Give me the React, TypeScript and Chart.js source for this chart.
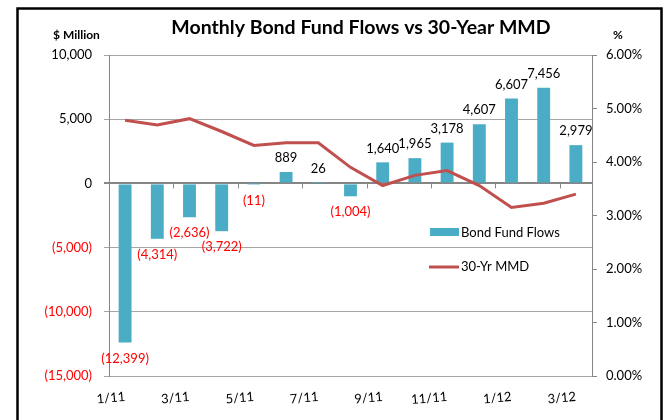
import React, { useEffect, useRef } from "react";
import { Chart, registerables } from "chart.js";

Chart.register(...registerables);

const months = ["1/11","2/11","3/11","4/11","5/11","6/11","7/11","8/11","9/11","10/11","11/11","12/11","1/12","2/12","3/12"];
const bondFlows = [-12399, -4314, -2636, -3722, -11, 889, 26, -1004, 1640, 1965, 3178, 4607, 6607, 7456, 2979];
const mmd = [4.78, 4.69, 4.81, 4.57, 4.31, 4.36, 4.36, 3.90, 3.56, 3.75, 3.84, 3.56, 3.15, 3.23, 3.40];
const leftTicks = { min: -15000, max: 10000, step: 5000 };
const rightTicks = { min: 0, max: 6, step: 1 };

const FONT = "Lato, 'Open Sans', sans-serif";
const BAR = "#4BACC6";
const LINE = "#C0504D";
const RED = "#FF0000";

function fmtMoney(v: number): string {
  const s = Math.abs(v).toLocaleString("en-US");
  return v < 0 ? `(${s})` : s;
}

const overlay = {
  id: "overlay",
  afterDraw(chart: any) {
    const ctx = chart.ctx as CanvasRenderingContext2D;
    const y = chart.scales.y;
    const x = chart.scales.x;
    ctx.save();
    // zero-line tick marks
    const y0 = y.getPixelForValue(0);
    ctx.strokeStyle = "#868686";
    ctx.lineWidth = 1;
    for (let i = 1; i < months.length - 1; i += 2) {
      const bx = Math.round((x.getPixelForValue(i) + x.getPixelForValue(i + 1)) / 2) + 0.5;
      ctx.beginPath();
      ctx.moveTo(bx, y0);
      ctx.lineTo(bx, y0 + 5);
      ctx.stroke();
    }
    // data labels
    const meta = chart.getDatasetMeta(1);
    ctx.font = `13px ${FONT}`;
    ctx.textAlign = "center";
    ctx.textBaseline = "middle";
    meta.data.forEach((el: any, i: number) => {
      const v = bondFlows[i];
      if (v < 0) {
        ctx.fillStyle = RED;
        ctx.fillText(fmtMoney(v), el.x, Math.max(el.y, el.base) + 16);
      } else {
        ctx.fillStyle = "#000";
        ctx.fillText(fmtMoney(v), el.x, Math.min(el.y, el.base) - 14);
      }
    });
    // title
    ctx.fillStyle = "#000";
    ctx.font = `bold 19.5px ${FONT}`;
    ctx.textAlign = "center";
    ctx.textBaseline = "alphabetic";
    ctx.fillText("Monthly Bond Fund Flows vs 30-Year MMD", 361, 34);
    ctx.font = `bold 12px ${FONT}`;
    ctx.textAlign = "left";
    ctx.textBaseline = "middle";
    ctx.fillText("$ Million", 53, 35);
    ctx.textAlign = "center";
    ctx.fillText("%", 618, 35);
    // legend
    ctx.font = `13px ${FONT}`;
    ctx.textAlign = "left";
    ctx.fillStyle = BAR;
    ctx.fillRect(430, 228, 29, 8);
    ctx.fillStyle = "#000";
    ctx.fillText("Bond Fund Flows", 461, 233);
    ctx.strokeStyle = LINE;
    ctx.lineWidth = 3;
    ctx.beginPath();
    ctx.moveTo(429, 267);
    ctx.lineTo(459, 267);
    ctx.stroke();
    ctx.fillText("30-Yr MMD", 461, 267);
    // outer border
    ctx.strokeStyle = "#000";
    ctx.lineWidth = 2.5;
    ctx.strokeRect(17.5, 8.5, 644, 430);
    ctx.restore();
  },
};

export default function App() {
  const ref = useRef<HTMLCanvasElement | null>(null);
  useEffect(() => {
    document.body.style.margin = "0";
    const canvas = ref.current!;
    const chart = new Chart(canvas, {
      type: "bar",
      data: {
        labels: months,
        datasets: [
          {
            type: "line",
            label: "30-Yr MMD",
            data: mmd,
            yAxisID: "y1",
            borderColor: LINE,
            backgroundColor: LINE,
            borderWidth: 3,
            pointRadius: 0,
            tension: 0,
            order: 0,
          } as any,
          {
            type: "bar",
            label: "Bond Fund Flows",
            data: bondFlows,
            yAxisID: "y",
            backgroundColor: BAR,
            barPercentage: 0.4,
            categoryPercentage: 1,
            order: 1,
          },
        ],
      },
      options: {
        responsive: false,
        animation: false,
        layout: { padding: { top: 55, left: 0, right: 0, bottom: 0 } },
        plugins: { legend: { display: false }, tooltip: { enabled: false } },
        scales: {
          x: {
            grid: { display: false },
            border: { display: false },
            ticks: {
              autoSkip: false,
              minRotation: 5,
              maxRotation: 5,
              padding: 5,
              color: "#000",
              font: { family: FONT, size: 13 },
              callback: (_v: any, i: number) => (i % 2 === 0 ? months[i] : ""),
            },
            afterFit: (s: any) => { s.height = 44; },
          },
          y: {
            position: "left",
            min: leftTicks.min,
            max: leftTicks.max,
            border: { display: true, color: "#868686" },
            grid: {
              color: (c: any) => (c.tick && c.tick.value === 0 ? "#868686" : "#A6A6A6"),
              lineWidth: (c: any) => (c.tick && c.tick.value === 0 ? 2 : 1),
              tickLength: 5,
            },
            ticks: {
              stepSize: leftTicks.step,
              padding: 12,
              color: (c: any) => (c.tick && c.tick.value < 0 ? RED : "#000"),
              font: { family: FONT, size: 13 },
              callback: (v: any) => fmtMoney(Number(v)),
            },
            afterFit: (s: any) => { s.width = 109; },
          },
          y1: {
            position: "right",
            min: rightTicks.min,
            max: rightTicks.max,
            border: { display: true, color: "#868686" },
            grid: { drawOnChartArea: false, color: "#868686", tickLength: 5 },
            ticks: {
              stepSize: rightTicks.step,
              padding: 9,
              color: "#000",
              font: { family: FONT, size: 13 },
              callback: (v: any) => Number(v).toFixed(2) + "%",
            },
            afterFit: (s: any) => { s.width = 74; },
          },
        },
      },
      plugins: [overlay],
    });
    return () => chart.destroy();
  }, []);
  return (
    <div style={{ position: "absolute", left: 0, top: 0, width: 666, height: 420 }}>
      <canvas ref={ref} width={666} height={420} />
    </div>
  );
}
